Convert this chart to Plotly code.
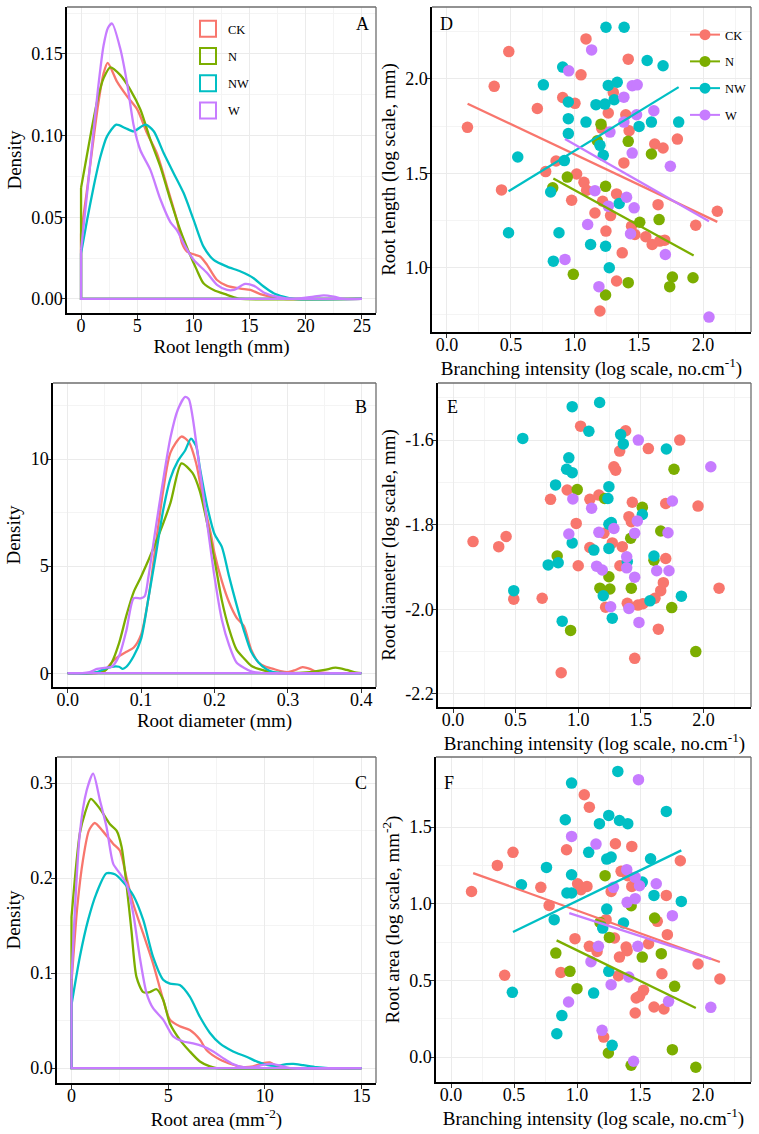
import plotly.graph_objects as go

GROUPS = ["CK", "N", "NW", "W"]
COLORS = {"CK": "#F8766D", "N": "#7CAE00", "NW": "#00BFC4", "W": "#C77CFF"}
FONT = "Liberation Serif"

# --- density curves, panel A (root length, mm)
A_X = {
    "CK": [0, 0.5, 1, 1.5, 2, 2.37, 3.2, 4.1, 5.0, 5.87, 6.76, 7.65, 8.54, 8.99, 9.43, 10.17, 10.6, 11.2,
           12.1, 13, 14.2, 15.07, 15.95, 17.1, 18, 25],
    "N": [0, 0.5, 1, 1.5, 2, 2.6, 3.5, 4.39, 5.28, 6.17, 7.06, 7.95, 8.84, 9.58, 10.3, 10.9, 11.8, 13, 13.9,
          14.2, 25],
    "NW": [0, 0.53, 1.13, 1.72, 2.31, 3.14, 3.94, 4.69, 5.72, 6.47, 7.35, 8.24, 9.13, 10.02, 10.9, 11.8, 13,
           14.2, 15.36, 16.25, 17.14, 18, 18.9, 25],
    "W": [0, 0.5, 1, 1.5, 2, 2.4, 2.76, 3.5, 4.1, 4.69, 5.28, 6.17, 7.06, 7.95, 8.54, 9.28, 10.02, 11.2, 12.1,
          13.0, 13.6, 14.6, 15.4, 16.25, 17.4, 18.9, 20.7, 21.6, 22.5, 23.4, 25],
}
A_Y = {
    "CK": [0.04, 0.065, 0.092, 0.118, 0.138, 0.1445, 0.133, 0.124, 0.116, 0.1016, 0.089, 0.069, 0.048, 0.034,
           0.029, 0.027, 0.026, 0.021, 0.0116, 0.008, 0.0063, 0.0055, 0.003, 0.001, 0, 0],
    "N": [0.068, 0.087, 0.106, 0.123, 0.135, 0.1418, 0.137, 0.128, 0.116, 0.0975, 0.081, 0.0607, 0.042, 0.029,
          0.0178, 0.0096, 0.0055, 0.0025, 0.0004, 0, 0],
    "NW": [0.028, 0.048, 0.069, 0.087, 0.0995, 0.1067, 0.1046, 0.1026, 0.1067, 0.1026, 0.0893, 0.077, 0.0648,
           0.0484, 0.032, 0.0239, 0.0198, 0.0168, 0.0127, 0.0076, 0.0035, 0.0014, 0, 0],
    "W": [0.03, 0.062, 0.095, 0.128, 0.155, 0.166, 0.1686, 0.153, 0.132, 0.106, 0.091, 0.079, 0.061, 0.047,
          0.042, 0.032, 0.024, 0.016, 0.0086, 0.0055, 0.0055, 0.0092, 0.008, 0.004, 0.0014, 0, 0.0014, 0.0022,
          0.0014, 0, 0],
}

# --- density curves, panel B (root diameter, mm)
B_X = {
    "CK": [0, 0.04, 0.05, 0.06, 0.07, 0.08, 0.09, 0.1, 0.11, 0.12, 0.13, 0.14, 0.155, 0.165, 0.175, 0.185,
           0.195, 0.2, 0.21, 0.22, 0.23, 0.24, 0.25, 0.26, 0.27, 0.28, 0.29, 0.3, 0.31, 0.32, 0.33, 0.34,
           0.36, 0.4],
    "N": [0, 0.03, 0.05, 0.06, 0.07, 0.08, 0.09, 0.1, 0.12, 0.14, 0.155, 0.17, 0.18, 0.19, 0.2, 0.21, 0.22,
          0.23, 0.24, 0.25, 0.26, 0.28, 0.3, 0.33, 0.35, 0.365, 0.38, 0.39, 0.4],
    "NW": [0, 0.03, 0.04, 0.05, 0.06, 0.07, 0.075, 0.08, 0.09, 0.1, 0.11, 0.12, 0.13, 0.14, 0.15, 0.16, 0.168,
           0.175, 0.18, 0.19, 0.2, 0.21, 0.22, 0.23, 0.24, 0.25, 0.26, 0.27, 0.28, 0.3, 0.4],
    "W": [0, 0.02, 0.03, 0.04, 0.05, 0.06, 0.07, 0.08, 0.09, 0.1, 0.105, 0.11, 0.12, 0.13, 0.14, 0.15, 0.16,
          0.165, 0.17, 0.18, 0.19, 0.2, 0.21, 0.22, 0.23, 0.24, 0.25, 0.27, 0.4],
}
B_Y = {
    "CK": [0, 0, 0.1, 0.5, 0.8, 1.0, 1.2, 1.8, 3.5, 6.0, 8.5, 10.3, 11.05, 10.8, 9.8, 8.0, 6.5, 5.6, 4.3, 3.3,
           2.6, 2.2, 1.1, 0.5, 0.3, 0.2, 0.1, 0.05, 0.15, 0.28, 0.2, 0.05, 0, 0],
    "N": [0, 0, 0.1, 0.5, 1.4, 2.7, 3.8, 4.5, 6.1, 7.95, 9.8, 9.35, 8.5, 7.0, 5.3, 3.4, 2.05, 1.1, 0.7, 0.35,
          0.2, 0.03, 0, 0.05, 0.15, 0.26, 0.15, 0.05, 0],
    "NW": [0, 0, 0.05, 0.2, 0.3, 0.3, 0.2, 0.3, 0.8, 1.6, 3.5, 5.5, 7.6, 9.1, 9.9, 10.4, 10.95, 10.6, 9.6, 7.8,
           6.5, 5.9, 4.5, 3.2, 2.0, 1.0, 0.5, 0.2, 0.05, 0, 0],
    "W": [0, 0, 0.05, 0.2, 0.25, 0.3, 0.8, 2.0, 3.5, 3.5, 3.6, 4.5, 6.8, 9.0, 11.0, 12.3, 12.9, 12.8, 12.0,
          9.5, 7.0, 4.5, 2.5, 1.3, 0.5, 0.25, 0.08, 0, 0],
}

# --- density curves, panel C (root area)
C_X = {
    "CK": [0, 0.3, 0.6, 0.9, 1.2, 1.6, 2.16, 2.5, 2.84, 3.19, 3.7, 4.22, 4.74, 5.09, 5.6, 6.12, 6.64, 6.98,
           7.67, 8.36, 8.88, 9.4, 9.91, 10.26, 10.6, 10.95, 15],
    "N": [0, 0.43, 0.69, 1.0, 1.47, 1.98, 2.33, 2.59, 2.84, 3.1, 3.36, 3.71, 4.05, 4.4, 4.74, 5.09, 5.6, 6.12,
          6.64, 7.16, 7.5, 15],
    "NW": [0, 0.43, 0.86, 1.29, 1.81, 2.24, 2.67, 3.19, 3.71, 4.22, 4.74, 5.09, 5.6, 6.12, 6.64, 7.16, 7.67,
           8.36, 9.05, 9.57, 10.09, 10.6, 11.12, 11.47, 11.98, 12.67, 13.28, 15],
    "W": [0, 0.43, 0.78, 1.12, 1.47, 1.81, 2.16, 2.5, 2.84, 3.19, 3.53, 3.88, 4.22, 4.74, 5.26, 5.78, 6.29,
          6.81, 7.33, 7.84, 8.36, 8.88, 9.4, 9.91, 10.34, 10.78, 11.3, 15],
}
C_Y = {
    "CK": [0.09, 0.17, 0.22, 0.25, 0.258, 0.25, 0.236, 0.229, 0.201, 0.173, 0.142, 0.11, 0.072, 0.051, 0.044,
           0.04, 0.03, 0.019, 0.009, 0.0035, 0.001, 0.0018, 0.0052, 0.006, 0.0025, 0, 0],
    "N": [0.159, 0.247, 0.268, 0.2835, 0.273, 0.257, 0.25, 0.233, 0.194, 0.145, 0.096, 0.08, 0.08, 0.083,
          0.072, 0.047, 0.03, 0.0175, 0.007, 0.0018, 0, 0],
    "NW": [0.0665, 0.117, 0.156, 0.184, 0.205, 0.204, 0.196, 0.182, 0.156, 0.117, 0.093, 0.089, 0.0875, 0.0753,
           0.054, 0.037, 0.026, 0.0175, 0.012, 0.007, 0.0035, 0.0025, 0.0042, 0.0045, 0.0031, 0.001, 0, 0],
    "W": [0.093, 0.247, 0.292, 0.31, 0.282, 0.254, 0.215, 0.205, 0.194, 0.163, 0.117, 0.079, 0.063, 0.051,
          0.0333, 0.028, 0.026, 0.0228, 0.0175, 0.0105, 0.0042, 0.001, 0.001, 0.0035, 0.0045, 0.0025, 0, 0],
}

# --- panel D: root length vs branching intensity (log)
D_X = {
    "CK": [0.16, 0.483, 0.369, 0.706, 0.426, 0.771, 0.852, 1.086, 1.047, 0.904, 1.0, 1.416, 1.299, 1.26,
           1.397, 1.423, 1.208, 1.382, 1.013, 1.07, 1.091, 0.974, 1.216, 1.325, 1.156, 1.278, 1.242, 1.442,
           1.468, 1.553, 1.603, 1.662, 1.701, 1.369, 1.325, 1.195, 1.649, 1.623, 1.688, 1.8, 1.943, 2.112],
    "N": [1.203, 1.174, 1.416, 1.597, 0.94, 0.826, 1.239, 1.506, 1.657, 0.987, 1.416, 1.239, 1.761, 1.74,
          1.922],
    "NW": [1.242, 1.384, 0.904, 0.753, 1.26, 1.33, 0.948, 1.164, 1.234, 1.306, 1.564, 1.688, 0.948, 1.086,
           1.501, 1.597, 1.81, 0.948, 1.195, 1.221, 0.553, 0.917, 0.81, 1.345, 0.481, 0.875, 1.122, 1.239,
           0.831, 1.268],
    "W": [1.13, 0.951, 1.447, 1.486, 1.382, 1.616, 1.481, 1.382, 1.273, 1.447, 1.745, 1.156, 1.403, 1.26,
          1.462, 1.099, 1.434, 1.706, 0.922, 1.187, 2.047],
}
D_Y = {
    "CK": [1.743, 2.144, 1.96, 1.843, 1.412, 1.509, 1.565, 2.211, 2.021, 1.901, 1.87, 2.104, 1.928, 1.819,
           1.81, 1.725, 1.739, 1.555, 1.496, 1.452, 1.41, 1.357, 1.352, 1.391, 1.29, 1.276, 1.194, 1.22,
           1.176, 1.164, 1.123, 1.141, 1.146, 1.079, 0.93, 0.771, 1.334, 1.655, 1.634, 1.681, 1.225, 1.299],
    "N": [1.76, 1.672, 1.669, 1.602, 1.48, 1.423, 1.431, 1.241, 1.255, 0.965, 0.921, 0.856, 0.951, 0.9,
          0.947],
    "NW": [2.273, 2.273, 2.062, 1.968, 1.965, 1.982, 1.877, 1.863, 1.866, 1.889, 2.097, 2.069, 1.789, 1.771,
           1.748, 1.771, 1.771, 1.71, 1.648, 1.595, 1.586, 1.567, 1.401, 1.34, 1.185, 1.185, 1.123, 1.114,
           1.035, 1.0],
    "W": [2.153, 2.042, 1.963, 1.968, 1.903, 1.831, 1.81, 1.771, 1.718, 1.607, 1.537, 1.408, 1.373, 1.326,
          1.317, 1.229, 1.18, 1.07, 1.044, 0.9, 0.739],
}
D_FIT_X = {"CK": [0.161, 2.112], "N": [0.831, 1.927], "NW": [0.481, 1.81], "W": [0.922, 2.047]}
D_FIT_Y = {"CK": [1.868, 1.243], "N": [1.472, 1.065], "NW": [1.405, 1.956], "W": [1.681, 1.246]}

# --- panel E: root diameter vs branching intensity (log)
E_X = {
    "CK": [0.16, 0.365, 0.424, 0.485, 0.712, 0.779, 0.864, 0.912, 1.019, 0.984, 1.0, 1.093, 1.165, 1.093,
           1.205, 1.272, 1.219, 1.285, 1.299, 1.331, 1.379, 1.352, 1.333, 1.405, 1.424, 1.432, 1.392, 1.477,
           1.517, 1.451, 1.56, 1.613, 1.64, 1.659, 1.68, 1.699, 1.699, 1.811, 1.957, 2.125],
    "N": [0.992, 0.832, 0.939, 1.211, 1.512, 1.419, 1.245, 1.173, 1.253, 1.424, 1.605, 1.659, 1.765, 1.747,
          1.939],
    "NW": [0.952, 1.171, 1.085, 0.557, 1.339, 1.36, 0.925, 0.907, 0.952, 0.819, 1.245, 1.237, 1.704, 1.512,
           1.245, 1.264, 0.952, 1.125, 1.245, 1.605, 0.76, 0.84, 1.392, 0.485, 1.2, 1.573, 1.824, 1.272,
           0.872],
    "W": [1.48, 2.059, 0.957, 1.107, 1.752, 0.925, 1.165, 1.285, 1.472, 1.451, 1.717, 1.387, 1.147, 1.192,
          1.387, 1.627, 1.725, 1.451, 1.259, 1.405, 1.485],
}
E_Y = {
    "CK": [-1.84, -1.852, -1.828, -1.976, -1.974, -1.74, -2.15, -1.718, -1.567, -1.797, -1.897, -1.74, -1.73,
           -1.854, -1.82, -1.843, -1.995, -1.663, -1.671, -1.626, -1.578, -1.852, -1.897, -1.781, -1.793,
           -1.747, -1.986, -1.99, -1.987, -2.116, -1.62, -1.974, -2.047, -1.956, -1.937, -1.88, -1.75, -1.6,
           -1.756, -1.95],
    "N": [-1.717, -1.874, -2.05, -1.738, -1.759, -1.832, -1.923, -1.95, -1.952, -1.95, -1.884, -1.815, -1.669,
          -1.996, -2.1],
    "NW": [-1.521, -1.511, -1.579, -1.596, -1.587, -1.609, -1.642, -1.669, -1.677, -1.706, -1.71, -1.738,
           -1.621, -1.776, -1.799, -1.795, -1.843, -1.86, -1.856, -1.874, -1.895, -1.89, -1.887, -1.956,
           -1.968, -1.98, -1.969, -2.021, -2.028],
    "W": [-1.6, -1.663, -1.739, -1.761, -1.744, -1.822, -1.818, -1.809, -1.791, -1.82, -1.819, -1.876, -1.898,
          -1.907, -1.902, -1.909, -1.909, -1.924, -1.994, -1.998, -2.031],
}

# --- panel F: root area vs branching intensity (log)
F_X = {
    "CK": [0.162, 0.367, 0.491, 0.425, 0.712, 0.778, 0.871, 0.916, 1.057, 1.097, 0.983, 1.004, 1.03, 1.078,
           1.097, 1.158, 1.211, 1.23, 1.27, 1.296, 1.304, 1.336, 1.328, 1.349, 1.402, 1.389, 1.434, 1.434,
           1.397, 1.469, 1.495, 1.527, 1.461, 1.567, 1.61, 1.636, 1.673, 1.689, 1.708, 1.716, 1.819, 1.96,
           2.133],
    "N": [1.222, 0.831, 0.943, 0.999, 1.256, 1.429, 1.517, 1.615, 1.668, 1.774, 1.248, 1.756, 1.429, 1.942,
          1.182],
    "NW": [1.323, 0.956, 0.906, 1.177, 1.251, 1.336, 1.402, 1.708, 1.092, 1.235, 1.27, 1.583, 0.757, 0.558,
           0.956, 0.919, 0.956, 1.517, 1.61, 1.827, 1.235, 0.818, 1.203, 1.368, 1.251, 1.131, 0.486, 0.879,
           0.839, 1.278],
    "W": [1.487, 0.956, 1.15, 1.394, 1.461, 1.495, 1.288, 1.628, 1.461, 1.397, 1.756, 1.169, 1.482, 1.11,
          1.41, 1.27, 0.932, 1.726, 2.061, 1.198, 1.448],
}
F_Y = {
    "CK": [1.08, 1.25, 1.335, 0.533, 1.107, 0.989, 0.552, 1.352, 1.711, 1.63, 0.772, 1.13, 1.091, 1.113,
           0.722, 0.689, 0.13, 0.896, 1.08, 0.776, 1.391, 0.652, 0.53, 1.211, 1.183, 0.717, 1.374, 1.113,
           0.693, 0.385, 0.396, 0.435, 0.287, 0.739, 0.326, 0.885, 0.543, 0.313, 1.054, 0.798, 1.28, 0.607,
           0.509],
    "N": [1.183, 0.678, 0.559, 0.446, 0.78, 0.987, 0.652, 0.907, 0.674, 0.461, 0.026, 0.048, -0.054, -0.067,
          0.878],
    "NW": [1.863, 1.787, 1.548, 1.522, 1.576, 1.543, 1.522, 1.602, 1.335, 1.291, 1.304, 1.293, 1.237, 1.124,
           1.189, 1.07, 1.07, 1.141, 1.054, 1.015, 0.965, 0.896, 0.841, 0.874, 0.559, 0.417, 0.422, 0.27,
           0.152, 0.076],
    "W": [1.809, 1.439, 1.389, 1.222, 1.172, 1.117, 1.107, 1.13, 1.033, 1.009, 0.922, 0.722, 0.722, 0.622,
          0.522, 0.472, 0.359, 0.363, 0.324, 0.174, -0.028],
}
F_FIT_X = {"CK": [0.175, 2.133], "N": [0.837, 1.942], "NW": [0.491, 1.827], "W": [0.938, 2.066]}
F_FIT_Y = {"CK": [1.2, 0.62], "N": [0.761, 0.32], "NW": [0.815, 1.348], "W": [0.939, 0.639]}

E_YTICKS = [-2.2, -2.0, -1.8, -1.6]
E_YTEXT = ["-2.2", "-2.0", "-1.8", "-1.6"]

W, H = 759, 1134


def px_dom(a, b, total, flip=False):
    if flip:
        return [1 - b / total, 1 - a / total]
    return [a / total, b / total]


fig = go.Figure()


def density(n, xs, ys):
    for g in GROUPS:
        x = xs[g]
        y = ys[g]
        # smooth curve, then the straight sides/baseline of the outline
        fig.add_trace(go.Scatter(
            x=x, y=y, mode="lines", line=dict(color=COLORS[g], width=2.3, shape="spline", smoothing=0.7),
            xaxis="x" + n, yaxis="y" + n, showlegend=False, hoverinfo="skip"))
        fig.add_trace(go.Scatter(
            x=[x[0], x[0], x[-1], x[-1]], y=[y[0], 0, 0, y[-1]],
            mode="lines", line=dict(color=COLORS[g], width=2.3),
            xaxis="x" + n, yaxis="y" + n, showlegend=False, hoverinfo="skip"))


def scatter(n, xs, ys, fx=None, fy=None):
    for g in GROUPS:
        fig.add_trace(go.Scatter(
            x=xs[g], y=ys[g], mode="markers",
            marker=dict(color=COLORS[g], size=11.5),
            xaxis="x" + n, yaxis="y" + n, showlegend=False))
    if fx:
        for g in GROUPS:
            fig.add_trace(go.Scatter(
                x=fx[g], y=fy[g], mode="lines",
                line=dict(color=COLORS[g], width=2.3),
                xaxis="x" + n, yaxis="y" + n, showlegend=False))


density("", A_X, A_Y)
density("2", B_X, B_Y)
density("3", C_X, C_Y)
scatter("4", D_X, D_Y, D_FIT_X, D_FIT_Y)
scatter("5", E_X, E_Y)
scatter("6", F_X, F_Y, F_FIT_X, F_FIT_Y)

# legends
for g in GROUPS:
    fig.add_trace(go.Scatter(
        x=[None], y=[None], mode="markers", name=g, legend="legend", legendgroup="a" + g,
        marker=dict(symbol="square-open", size=16, color=COLORS[g], line=dict(width=2))))
for g in GROUPS:
    fig.add_trace(go.Scatter(
        x=[None], y=[None], mode="lines+markers", name=g, legend="legend2", legendgroup="d" + g,
        xaxis="x4", yaxis="y4",
        marker=dict(size=11, color=COLORS[g]), line=dict(color=COLORS[g], width=2)))

BRANCH = "Branching intensity (log scale, no.cm<sup>-1</sup>)"
panels = [
    # n, xdom px, ydom px, xrange, yrange, xdtick, ydtick, xfmt, yfmt, xtitle, ytitle
    ("", (67, 376), (7, 313), [-1.25, 26.25], [-0.0086, 0.1787], 5, 0.05, "d", ".2f",
     "Root length (mm)", "Density"),
    ("2", (53, 376), (383, 687), [-0.02, 0.42], [-0.645, 13.55], 0.1, 5, ".1f", "d",
     "Root diameter (mm)", "Density"),
    ("3", (57, 376), (757, 1083), [-0.75, 15.75], [-0.0157, 0.3275], 5, 0.1, "d", ".1f",
     "Root area (mm<sup>-2</sup>)", "Density"),
    ("4", (432, 751), (7, 332), [-0.117, 2.375], [0.66, 2.38], 0.5, 0.5, ".1f", ".1f",
     BRANCH, "Root length (log scale, mm)"),
    ("5", (438, 751), (383, 707), [-0.12, 2.38], [-2.231, -1.465], 0.5, 0.2, ".1f", ".1f",
     BRANCH, "Root diameter (log scale, mm)"),
    ("6", (436, 751), (757, 1082), [-0.12, 2.38], [-0.163, 1.957], 0.5, 0.5, ".1f", ".1f",
     BRANCH, "Root area (log scale, mm<sup>-2</sup>)"),
]

tickfont = dict(family=FONT, size=18, color="black")
titlefont = dict(family=FONT, size=19, color="black")
shapes = []
for n, xd, yd, xr, yr, xdt, ydt, xf, yf, xt, yt in panels:
    xa = dict(domain=px_dom(*xd, W), range=xr, anchor="y" + n, dtick=xdt, tick0=0, tickformat=xf,
              showgrid=True, gridcolor="#EBEBEB", gridwidth=1, zeroline=False,
              minor=dict(dtick=xdt / 2, tick0=0, showgrid=True, gridcolor="#F4F4F4", gridwidth=1),
              showline=True, linecolor="black", linewidth=1.5, ticks="outside", ticklen=4,
              tickcolor="#333333", tickwidth=1, tickfont=tickfont, automargin=False,
              ticklabelstandoff=-8,
              title=dict(text=xt, font=titlefont, standoff=0))
    ya = dict(domain=px_dom(*yd, H, flip=True), range=yr, anchor="x" + n, dtick=ydt, tick0=0,
              tickformat=yf, showgrid=True, gridcolor="#EBEBEB", gridwidth=1, zeroline=False,
              minor=dict(dtick=ydt / 2, tick0=0, showgrid=True, gridcolor="#F4F4F4", gridwidth=1),
              showline=True, linecolor="black", linewidth=1.5, ticks="outside", ticklen=4,
              tickcolor="#333333", tickwidth=1, tickfont=tickfont, automargin=False,
              ticklabelstandoff=-5,
              title=dict(text=yt, font=titlefont, standoff=5))
    if n == "5":
        ya.update(tickmode="array", tickvals=E_YTICKS, ticktext=E_YTEXT,
                  minor=dict(tickmode="linear", tick0=-2.1, dtick=0.2, showgrid=True,
                             gridcolor="#F4F4F4", gridwidth=1))
    fig.update_layout(**{"xaxis" + n: xa, "yaxis" + n: ya})
    for x0, x1, y0, y1 in [(0, 1, 1, 1), (1, 1, 0, 1)]:
        shapes.append(dict(type="line", xref="x" + n + " domain", yref="y" + n + " domain",
                           x0=x0, x1=x1, y0=y0, y1=y1, line=dict(color="#6E6E6E", width=1.3)))

labels = [("A", 362, 24), ("D", 446, 24), ("B", 361, 407), ("E", 452, 407), ("C", 361, 783),
          ("F", 449, 783)]
annotations = [dict(text=t, x=x / W, y=1 - y / H, xref="paper", yref="paper", showarrow=False,
                    xanchor="center", yanchor="middle", font=dict(family=FONT, size=18, color="black"))
               for t, x, y in labels]

legend_font = dict(family=FONT, size=12.5, color="black")
fig.update_layout(
    width=W, height=H, margin=dict(l=0, r=0, t=0, b=0),
    paper_bgcolor="white", plot_bgcolor="white",
    shapes=shapes, annotations=annotations,
    legend=dict(x=188 / W, y=1 - 14 / H, xanchor="left", yanchor="top", font=legend_font,
                bgcolor="rgba(0,0,0,0)", tracegroupgap=8, itemclick=False),
    legend2=dict(x=685 / W, y=1 - 20 / H, xanchor="left", yanchor="top", font=legend_font,
                 bgcolor="rgba(0,0,0,0)", tracegroupgap=7.5, itemclick=False),
    showlegend=True,
)

fig.write_html("out.html", config={"displayModeBar": False},
               post_script="document.body.style.margin='0';")
